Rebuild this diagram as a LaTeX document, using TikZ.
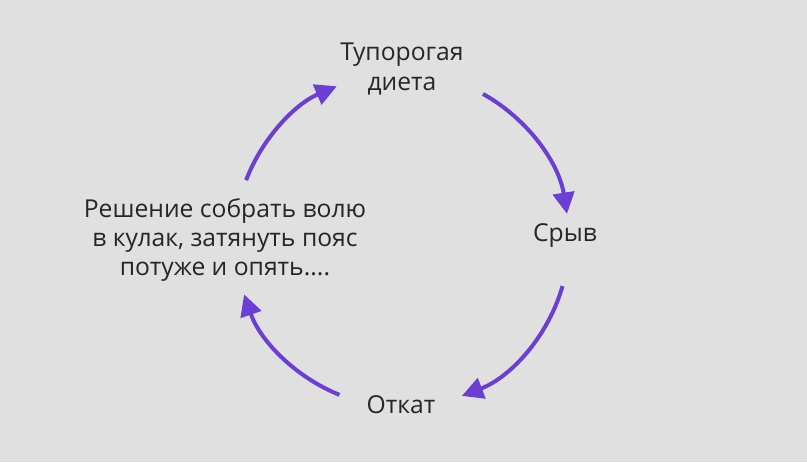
\documentclass[tikz,border=0pt]{standalone}
\usepackage{fontspec}
\setmainfont{Open Sans}
\usetikzlibrary{arrows.meta}
\definecolor{cyclepurple}{HTML}{6B3FD3}
\definecolor{backgray}{HTML}{E0E0E0}
\tikzset{
  stage/.style={align=center, font=\fontsize{18.5}{22}\selectfont, text=black!85},
  cyclearc/.style={cyclepurple, line width=3pt, -{Triangle[length=16pt,width=16pt]}}
}
\begin{document}
\begin{tikzpicture}[x=0.75pt, y=0.75pt]
  \fill[backgray] (0,0) rectangle (807,462);
  \useasboundingbox (0,0) rectangle (807,462);
  \coordinate (centre) at (402,222);

  \node[stage] (diet) at (402,393) {Тупорогая\\диета};
  \node[stage] (breakdown) at (565,226) {Срыв};
  \node[stage] (rollback) at (401,57) {Откат};
  \node[stage] (decision) at (225,222) {Решение собрать волю\\в кулак, затянуть пояс\\потуже и опять....};

  \draw[cyclearc] ([shift={(61:125.25pt)}]centre) arc[start angle=61, end angle=9, radius=125.25pt];
  \draw[cyclearc] ([shift={(-16:125.25pt)}]centre) arc[start angle=-16, end angle=-69, radius=125.25pt];
  \draw[cyclearc] ([shift={(-112:125.25pt)}]centre) arc[start angle=-112, end angle=-161, radius=125.25pt];
  \draw[cyclearc] ([shift={(159:125.25pt)}]centre) arc[start angle=159, end angle=113, radius=125.25pt];
\end{tikzpicture}
\end{document}
